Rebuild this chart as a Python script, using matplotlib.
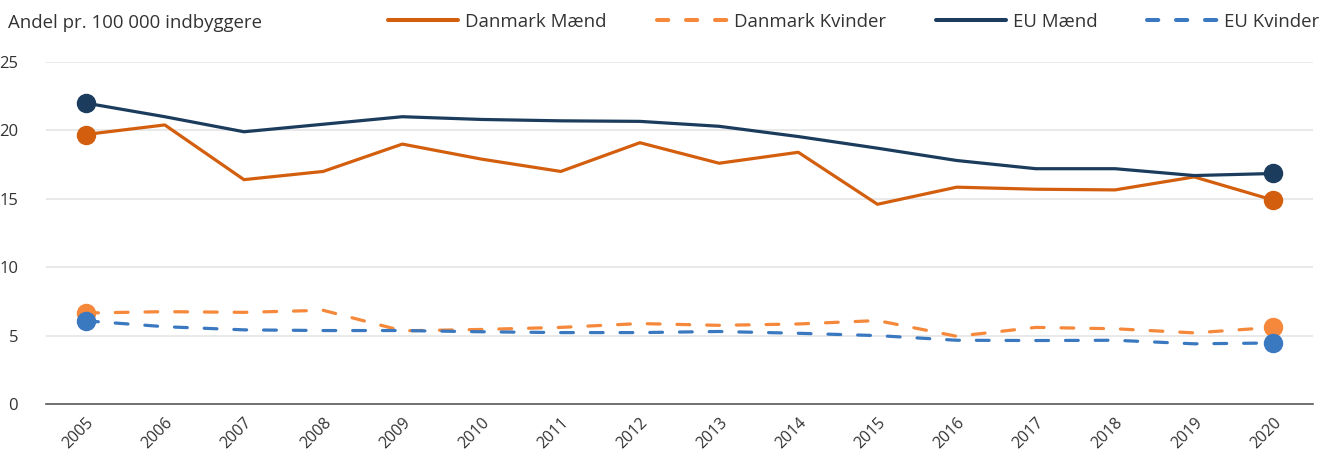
import matplotlib.pyplot as plt
from matplotlib.lines import Line2D

plt.rcParams['font.family'] = ['Open Sans', 'DejaVu Sans']

years = list(range(2005, 2021))
dk_maend = [19.7, 20.4, 16.4, 17.0, 19.0, 17.9, 17.0, 19.1, 17.6, 18.4,
            14.6, 15.85, 15.7, 15.65, 16.6, 14.9]
dk_kvinder = [6.65, 6.75, 6.7, 6.85, 5.35, 5.45, 5.6, 5.88, 5.75, 5.85,
              6.1, 4.95, 5.6, 5.5, 5.2, 5.6]
eu_maend = [22.0, 21.0, 19.9, 20.45, 21.0, 20.8, 20.7, 20.66, 20.3, 19.55,
            18.7, 17.8, 17.2, 17.2, 16.7, 16.85]
eu_kvinder = [6.08, 5.65, 5.42, 5.37, 5.37, 5.28, 5.22, 5.22, 5.3, 5.17,
              5.0, 4.66, 4.64, 4.66, 4.4, 4.46]
labels = ['Danmark Mænd', 'Danmark Kvinder', 'EU Mænd', 'EU Kvinder']

c_dk_m = '#D35F0E'
c_dk_k = '#F5883A'
c_eu_m = '#1C3C5E'
c_eu_k = '#3A78C0'
txt = '#333333'

fig = plt.figure(figsize=(13.31, 4.61), dpi=100)
ax = fig.add_axes([46 / 1331, 57 / 461, (1313 - 46) / 1331, (404 - 62) / 461])

series = [
    (dk_maend, c_dk_m, '-'),
    (dk_kvinder, c_dk_k, '--'),
    (eu_maend, c_eu_m, '-'),
    (eu_kvinder, c_eu_k, '--'),
]
handles = []
for vals, col, ls in series:
    line, = ax.plot(years, vals, color=col, lw=2.3, ls=ls,
                    solid_capstyle='round', dash_capstyle='round', zorder=3)
    if ls == '--':
        line.set_dashes((4, 5.3))
    # endpoint markers
    ax.plot([years[0], years[-1]], [vals[0], vals[-1]], 'o', color=col,
            ms=13, zorder=4)
    h = Line2D([], [], color=col, lw=2.9, ls=ls, solid_capstyle='round',
               dash_capstyle='round')
    if ls == '--':
        h.set_dashes((2.8, 4.4))
    handles.append(h)

ax.set_xlim(2004.5, 2020.5)
ax.set_ylim(0, 25)
ax.set_yticks([0, 5, 10, 15, 20, 25])
ax.set_xticks(years)
ax.set_xticklabels([str(y) for y in years], rotation=45, ha='right',
                   rotation_mode='anchor', fontsize=11.5, color=txt)
ax.tick_params(axis='y', length=0, pad=20, labelsize=12, labelcolor=txt)
ax.tick_params(axis='x', length=0, pad=8)

ax.grid(axis='y', color='#E3E3E3', lw=1.1, zorder=0)
for s in ['top', 'right', 'left']:
    ax.spines[s].set_visible(False)
ax.spines['bottom'].set_color('#595959')
ax.spines['bottom'].set_linewidth(1.2)
ax.spines['bottom'].set_zorder(2)

fig.text(8 / 1331, 1 - 23 / 461, 'Andel pr. 100 000 indbyggere',
         fontsize=13.4, color=txt, va='center', ha='left')

fig.legend(handles, labels, ncol=4, loc='center left',
           bbox_to_anchor=(381 / 1331, 1 - 22 / 461), frameon=False,
           borderaxespad=0, fontsize=13.4, handlelength=3.76,
           handletextpad=0.38, columnspacing=2.67, labelcolor=txt)

fig.savefig('out.png', dpi=100)
